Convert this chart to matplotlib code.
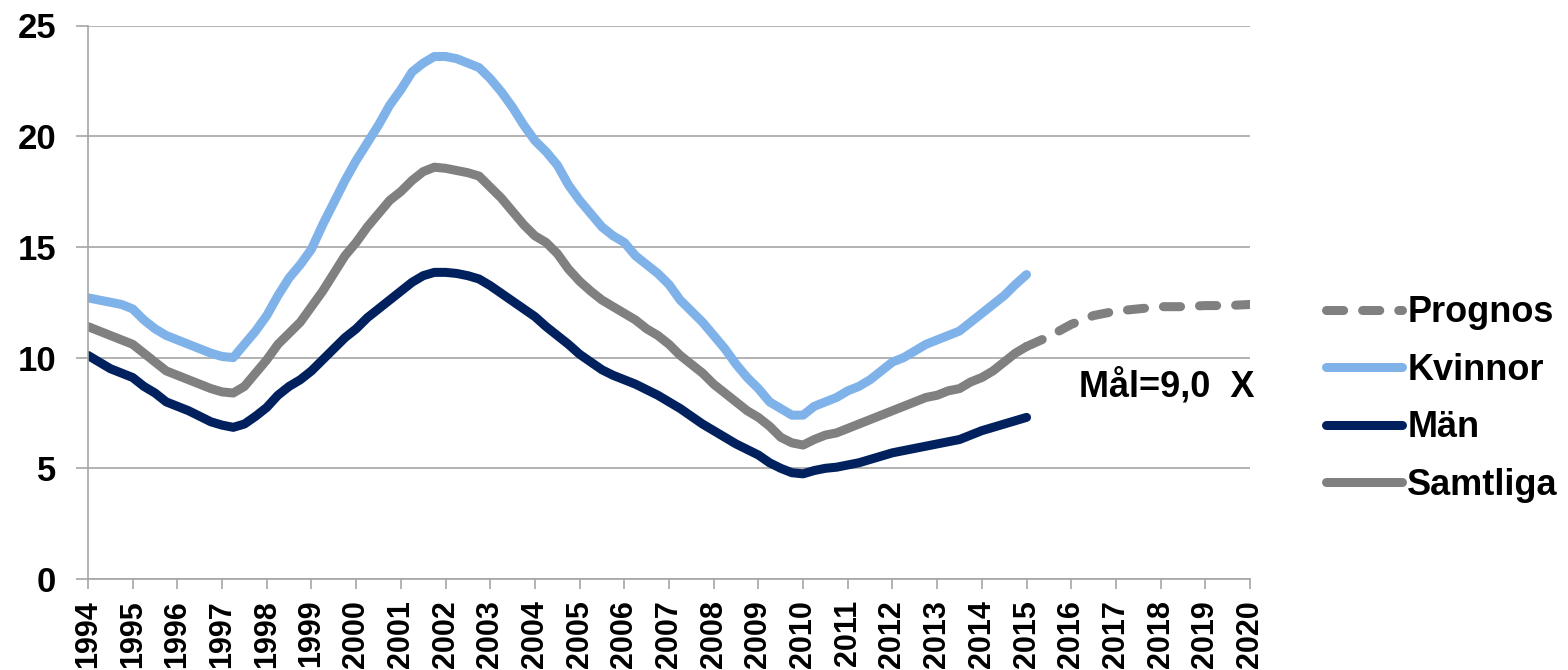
import numpy as np
import matplotlib.pyplot as plt

plt.rcParams['font.family'] = ['Liberation Sans', 'DejaVu Sans']
plt.rcParams['font.weight'] = 'bold'

# quarterly observations 1994 - 2015
quarters = np.arange(1994, 2015.01, 0.25)

kvinnor = [12.7, 12.6, 12.5, 12.4,
           12.2, 11.7, 11.3, 11.0,
           10.8, 10.6, 10.4, 10.2,
           10.05, 10.0, 10.6, 11.2,
           11.9, 12.8, 13.6, 14.2,
           14.9, 16.0, 17.0, 18.0,
           18.9, 19.7, 20.5, 21.4,
           22.1, 22.9, 23.3, 23.6,
           23.6, 23.5, 23.3, 23.1,
           22.6, 22.0, 21.3, 20.5,
           19.8, 19.3, 18.7, 17.8,
           17.1, 16.5, 15.9, 15.5,
           15.2, 14.6, 14.2, 13.8,
           13.3, 12.6, 12.1, 11.6,
           11.0, 10.4, 9.7, 9.1,
           8.6, 8.0, 7.7, 7.4,
           7.4, 7.8, 8.0, 8.2,
           8.5, 8.7, 9.0, 9.4,
           9.8, 10.0, 10.3, 10.6,
           10.8, 11.0, 11.2, 11.6,
           12.0, 12.4, 12.8, 13.3,
           13.75]

man = [10.1, 9.8, 9.5, 9.3,
       9.1, 8.7, 8.4, 8.0,
       7.8, 7.6, 7.35, 7.1,
       6.95, 6.85, 7.0, 7.35,
       7.75, 8.3, 8.7, 9.0,
       9.4, 9.9, 10.4, 10.9,
       11.3, 11.8, 12.2, 12.6,
       13.0, 13.4, 13.7, 13.85,
       13.85, 13.8, 13.7, 13.55,
       13.25, 12.9, 12.55, 12.2,
       11.85, 11.4, 11.0, 10.6,
       10.15, 9.8, 9.45, 9.2,
       9.0, 8.8, 8.55, 8.3,
       8.0, 7.7, 7.35, 7.0,
       6.7, 6.4, 6.1, 5.85,
       5.6, 5.25, 5.0, 4.8,
       4.75, 4.9, 5.0, 5.05,
       5.15, 5.25, 5.4, 5.55,
       5.7, 5.8, 5.9, 6.0,
       6.1, 6.2, 6.3, 6.5,
       6.7, 6.85, 7.0, 7.15,
       7.3]

samtliga = [11.4, 11.2, 11.0, 10.8,
            10.6, 10.2, 9.8, 9.4,
            9.2, 9.0, 8.8, 8.6,
            8.45, 8.4, 8.7, 9.3,
            9.9, 10.6, 11.1, 11.6,
            12.3, 13.0, 13.8, 14.6,
            15.2, 15.9, 16.5, 17.1,
            17.5, 18.0, 18.4, 18.6,
            18.55, 18.45, 18.35, 18.2,
            17.7, 17.2, 16.6, 16.0,
            15.5, 15.2, 14.7, 14.0,
            13.45, 13.0, 12.6, 12.3,
            12.0, 11.7, 11.3, 11.0,
            10.6, 10.1, 9.7, 9.3,
            8.8, 8.4, 8.0, 7.6,
            7.3, 6.9, 6.4, 6.15,
            6.05, 6.3, 6.5, 6.6,
            6.8, 7.0, 7.2, 7.4,
            7.6, 7.8, 8.0, 8.2,
            8.3, 8.5, 8.6, 8.9,
            9.1, 9.4, 9.8, 10.2,
            10.5]

prognos_x = [2015.0, 2015.5, 2016.0, 2016.5, 2017.0, 2017.5,
             2018.0, 2018.5, 2019.0, 2019.5, 2020.0]
prognos = [10.5, 10.95, 11.5, 11.9, 12.1, 12.2,
           12.3, 12.3, 12.35, 12.35, 12.4]

years = list(range(1994, 2021))
maal_text = 'Mål=9,0  X'

c_kv = '#80B2EA'
c_man = '#00215E'
c_tot = '#808080'
c_grid = '#A6A6A6'

fig = plt.figure(figsize=(15.68, 6.70), dpi=100)
ax = fig.add_axes([88 / 1568, 1 - 579 / 670, (1250 - 88) / 1568, (579 - 25.5) / 670])

lw = 6.5
l_kv, = ax.plot(quarters, kvinnor, color=c_kv, lw=lw, solid_capstyle='round', label='Kvinnor')
l_man, = ax.plot(quarters, man, color=c_man, lw=lw, solid_capstyle='round', label='Män')
l_tot, = ax.plot(quarters, samtliga, color=c_tot, lw=lw, solid_capstyle='round', label='Samtliga')
l_pr, = ax.plot(prognos_x, prognos, color=c_tot, lw=lw, dashes=(1.9, 2.1),
                dash_capstyle='round', label='Prognos')

ax.set_xlim(1994, 2020)
ax.set_ylim(0, 25)
ax.set_yticks([0, 5, 10, 15, 20, 25])
ax.set_xticks(years)
ax.set_xticklabels(years, rotation=90, fontsize=22, fontweight='bold')
ax.tick_params(axis='y', labelsize=25, length=9, width=1.2, color=c_grid, pad=14)
ax.tick_params(axis='x', length=7, width=1.2, color=c_grid, pad=8)
for t in ax.get_yticklabels():
    t.set_fontweight('bold')

ax.set_axisbelow(True)
ax.yaxis.grid(True, color=c_grid, lw=1.2)
for s in ['top', 'right']:
    ax.spines[s].set_visible(False)
for s in ['left', 'bottom']:
    ax.spines[s].set_color(c_grid)
    ax.spines[s].set_linewidth(1.2)

ax.text(2016.17, 8.7, maal_text, fontsize=26, fontweight='bold', ha='left', va='center')

fig.legend([l_pr, l_kv, l_man, l_tot], ['Prognos', 'Kvinnor', 'Män', 'Samtliga'],
           loc='center left', bbox_to_anchor=(1326 / 1568, 1 - 399 / 670),
           frameon=False, fontsize=26, handlelength=2.1, handletextpad=0.15,
           labelspacing=0.62, borderpad=0, borderaxespad=0)

fig.savefig('out.png', dpi=100)
